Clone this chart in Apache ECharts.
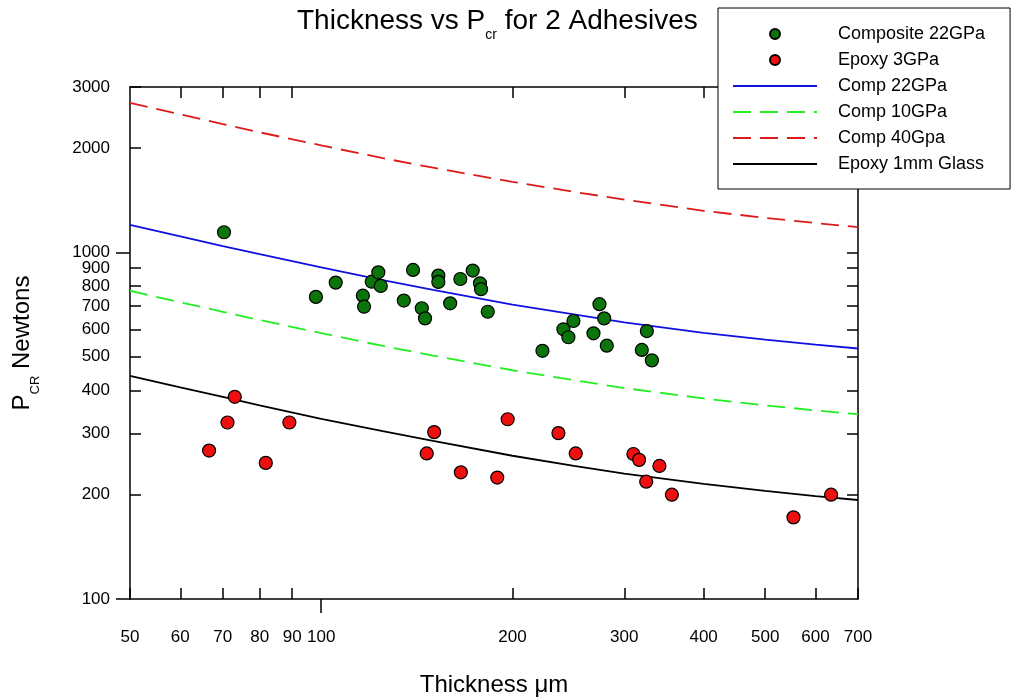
<!DOCTYPE html>
<html>
<head>
<meta charset="utf-8">
<script src="https://cdn.jsdelivr.net/npm/echarts@6/dist/echarts.min.js"></script>
<style>html,body{margin:0;padding:0;background:#fff}#c{width:1011px;height:700px}</style>
</head>
<body>
<div id="c"></div>
<script>
// ---- data ----
const xTickLabels = [50, 60, 70, 80, 90, 100, 200, 300, 400, 500, 600, 700];
const xMinorTicks = [50, 60, 70, 80, 90, 200, 300, 400, 500, 600, 700];
const xMajorTicks = [100];
const yTickLabels = [100, 200, 300, 400, 500, 600, 700, 800, 900, 1000, 2000, 3000];
const yMinorTicks = [200, 300, 400, 500, 600, 700, 800, 900, 2000, 3000];
const yMajorTicks = [100, 1000];
const yRightTicks = [200, 300, 400, 500, 600, 700, 800, 900, 1000, 2000];
const xTopTicks = [60, 70, 80, 90, 200, 300, 400, 500, 600];

const greenX = [70.3, 98.1, 105.4, 116.3, 116.8, 120.1, 123, 124.1, 134.9, 139.5, 144, 145.7, 152.9, 152.9, 159.6, 165.6, 173.2, 177.8, 178.5, 182.9, 223, 240.6, 245, 249.5, 268.3, 274.2, 278.9, 281.6, 319.7, 325.6, 331.6];
const greenY = [1143, 744, 818, 750, 697, 823, 876, 800, 726, 890, 690, 645, 857, 822, 713, 838, 886, 814, 783, 674, 520, 600, 569, 634, 584, 709, 645, 538, 523, 593, 488];

const redX = [66.6, 71.2, 73.1, 81.8, 89.1, 146.6, 150.6, 165.9, 189.3, 196.6, 236.3, 251.6, 310.1, 316.6, 324.8, 340.8, 356.5, 554, 635];
const redY = [268, 323, 383, 247, 323, 263, 303, 232, 224, 330, 301, 263, 262, 252, 218, 242, 200, 172, 200];

const curveX = [50, 60, 70, 80, 100, 125, 150, 200, 250, 300, 400, 500, 600, 700];
const comp22 = [1200, 1112, 1043, 988, 905, 832, 780, 707, 662, 628, 586, 560, 542, 528];
const comp10 = [775, 718, 674, 638, 585, 537, 504, 457, 428, 406, 379, 362, 350, 341];
const comp40 = [2700, 2500, 2345, 2220, 2035, 1870, 1755, 1598, 1495, 1420, 1318, 1258, 1215, 1182];
const epoxyGlass = [440, 408, 383, 362, 331, 305, 286, 259, 242, 230, 215, 205, 198, 193];

const seriesNames = ['Composite 22GPa', 'Epoxy 3GPa', 'Comp 22GPa', 'Comp 10GPa', 'Comp 40Gpa', 'Epoxy 1mm Glass'];

// ---- chart ----
const FONT = 'Liberation Sans, Arial, sans-serif';
const pair = (xs, ys) => xs.map((x, i) => [x, ys[i]]);
const blackLine = { color: '#000', width: 1.5 };
const plainLabel = v => String(Math.round(v));

const baseX = { type: 'log', logBase: 10, min: 50, max: 700, gridIndex: 0, splitLine: { show: false } };
const baseY = { type: 'log', logBase: 10, min: 100, max: 3000, gridIndex: 0, splitLine: { show: false } };

const hiddenSymbol = { color: 'rgba(0,0,0,0)', borderColor: 'rgba(0,0,0,0)', borderWidth: 0 };

const chart = echarts.init(document.getElementById('c'), null, { renderer: 'canvas' });
chart.setOption({
  backgroundColor: '#fff',
  animation: false,
  textStyle: { fontFamily: FONT, color: '#000' },
  title: {
    text: '{a|Thickness vs P}{b|cr}{a| for 2 Adhesives}',
    left: 292, top: 0, padding: [7, 5, 5, 5],
    textStyle: {
      fontWeight: 'normal',
      rich: {
        a: { fontSize: 28, lineHeight: 35, verticalAlign: 'top', fontWeight: 'normal', fontFamily: FONT, color: '#000' },
        b: { fontSize: 14, lineHeight: 14, verticalAlign: 'bottom', fontWeight: 'normal', fontFamily: FONT, color: '#000' }
      }
    }
  },
  legend: {
    orient: 'vertical', left: 718, top: 8,
    padding: [16, 25, 15, 14],
    itemWidth: 84, itemHeight: 10, itemGap: 6,
    borderColor: '#000', borderWidth: 1, backgroundColor: '#fff',
    textStyle: { fontSize: 18, lineHeight: 20, fontFamily: FONT, color: '#000', padding: [0, 0, 0, 16] },
    data: [
      { name: seriesNames[0] },
      { name: seriesNames[1] },
      { name: seriesNames[2], itemStyle: hiddenSymbol },
      { name: seriesNames[3], itemStyle: hiddenSymbol },
      { name: seriesNames[4], itemStyle: hiddenSymbol },
      { name: seriesNames[5], itemStyle: hiddenSymbol }
    ]
  },
  grid: { left: 130, right: 153, top: 87, bottom: 101, outerBoundsMode: 'none', containLabel: false },
  xAxis: [
    Object.assign({}, baseX, {
      position: 'bottom',
      name: 'Thickness \u03bcm', nameLocation: 'middle', nameGap: 74,
      nameTextStyle: { fontSize: 24, fontFamily: FONT, color: '#000' },
      axisLine: { show: true, lineStyle: blackLine },
      axisTick: { show: true, inside: true, length: 11, customValues: xMinorTicks, lineStyle: blackLine },
      axisLabel: { show: true, customValues: xTickLabels, margin: 30, fontSize: 17, fontFamily: FONT, color: '#000', formatter: plainLabel }
    }),
    Object.assign({}, baseX, {
      position: 'bottom',
      axisLine: { show: false },
      axisTick: { show: true, inside: false, length: 14, customValues: xMajorTicks, lineStyle: blackLine },
      axisLabel: { show: false }
    }),
    Object.assign({}, baseX, {
      position: 'top',
      axisLine: { show: true, lineStyle: blackLine },
      axisTick: { show: true, inside: true, length: 11, customValues: xTopTicks, lineStyle: blackLine },
      axisLabel: { show: false }
    })
  ],
  yAxis: [
    Object.assign({}, baseY, {
      position: 'left',
      name: '{p|P}{s|CR}{p| Newtons}', nameLocation: 'middle', nameGap: 88, nameRotate: 90,
      nameTextStyle: {
        rich: {
          p: { fontSize: 24, lineHeight: 32, verticalAlign: 'top', fontFamily: FONT, color: '#000' },
          s: { fontSize: 13, lineHeight: 13, verticalAlign: 'bottom', fontFamily: FONT, color: '#000' }
        }
      },
      axisLine: { show: true, lineStyle: blackLine },
      axisTick: { show: true, inside: true, length: 11, customValues: yMinorTicks, lineStyle: blackLine },
      axisLabel: { show: true, customValues: yTickLabels, margin: 20, fontSize: 17, fontFamily: FONT, color: '#000', formatter: plainLabel }
    }),
    Object.assign({}, baseY, {
      position: 'left',
      axisLine: { show: false },
      axisTick: { show: true, inside: false, length: 14, customValues: yMajorTicks, lineStyle: blackLine },
      axisLabel: { show: false }
    }),
    Object.assign({}, baseY, {
      position: 'right',
      axisLine: { show: true, lineStyle: blackLine },
      axisTick: { show: true, inside: true, length: 11, customValues: yRightTicks, lineStyle: blackLine },
      axisLabel: { show: false }
    })
  ],
  series: [
    {
      name: seriesNames[0], type: 'scatter', xAxisIndex: 0, yAxisIndex: 0, z: 5,
      symbol: 'circle', symbolSize: 13,
      itemStyle: { color: '#0b740b', borderColor: '#000', borderWidth: 1.2, opacity: 1 },
      data: pair(greenX, greenY)
    },
    {
      name: seriesNames[1], type: 'scatter', xAxisIndex: 0, yAxisIndex: 0, z: 5,
      symbol: 'circle', symbolSize: 13,
      itemStyle: { color: '#ee0f0f', borderColor: '#000', borderWidth: 1.2, opacity: 1 },
      data: pair(redX, redY)
    },
    {
      name: seriesNames[2], type: 'line', xAxisIndex: 0, yAxisIndex: 0, z: 3,
      symbol: 'none',
      lineStyle: { color: '#1010e0', width: 1.8, type: 'solid' },
      itemStyle: { color: '#1010e0' },
      data: pair(curveX, comp22)
    },
    {
      name: seriesNames[3], type: 'line', xAxisIndex: 0, yAxisIndex: 0, z: 3,
      symbol: 'none',
      lineStyle: { color: '#22ee22', width: 1.8, type: [18, 9] },
      itemStyle: { color: '#22ee22' },
      data: pair(curveX, comp10)
    },
    {
      name: seriesNames[4], type: 'line', xAxisIndex: 0, yAxisIndex: 0, z: 3,
      symbol: 'none',
      lineStyle: { color: '#dd1a1a', width: 1.8, type: [18, 9] },
      itemStyle: { color: '#dd1a1a' },
      data: pair(curveX, comp40)
    },
    {
      name: seriesNames[5], type: 'line', xAxisIndex: 0, yAxisIndex: 0, z: 3,
      symbol: 'none',
      lineStyle: { color: '#000', width: 1.8, type: 'solid' },
      itemStyle: { color: '#000' },
      data: pair(curveX, epoxyGlass)
    }
  ]
});
</script>
</body>
</html>
